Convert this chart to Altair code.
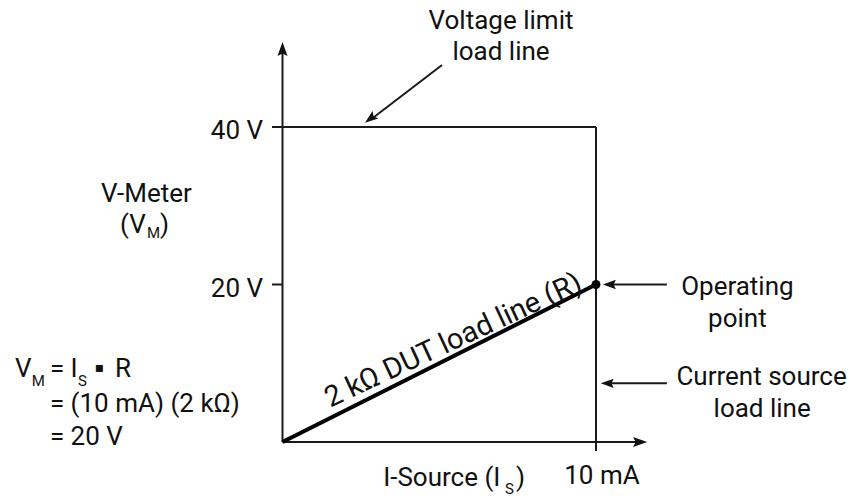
import altair as alt
import pandas as pd

# ---------------- data (current in mA, voltage in V) ----------------
load_current = [0, 10]          # DUT load line endpoints (mA)
load_voltage = [0, 20]          # DUT load line endpoints (V)
voltage_limit = 40              # V
source_current = 10             # mA
operating_current = [10]
operating_voltage = [20]
y_tick_values = [20, 40]
y_tick_labels = ["20 V", "40 V"]
x_tick_values = [10]
x_tick_labels = ["10 mA"]

FONT = "Roboto"
FS = 26
SUB = 15
W, H = 841, 488
xs = alt.Scale(domain=[-8.756, 18.070], nice=False, zero=False)
ys = alt.Scale(domain=[-6.857, 55.11], nice=False, zero=False)

# ---------------- line segments ----------------
segs = pd.DataFrame([
    # axes
    dict(x=0, y=0, x2=0, y2=50.2),
    dict(x=0, y=0, x2=11.3, y2=0),
    # voltage limit load line (with tick at 40 V)
    dict(x=-0.335, y=voltage_limit, x2=source_current, y2=voltage_limit),
    # current source load line (with tick at 10 mA)
    dict(x=source_current, y=voltage_limit, x2=source_current, y2=-1.14),
    # 20 V tick
    dict(x=-0.335, y=y_tick_values[0], x2=0, y2=y_tick_values[0]),
    # annotation arrows
    dict(x=5.09, y=47.87, x2=2.9, y2=41.2),
    dict(x=12.26, y=20, x2=10.5, y2=20),
    dict(x=12.26, y=7.45, x2=10.45, y2=7.45),
])

rules = alt.Chart(segs).mark_rule(color="#1a1a1a", strokeWidth=2).encode(
    x=alt.X("x:Q", scale=xs, axis=None),
    y=alt.Y("y:Q", scale=ys, axis=None),
    x2="x2:Q", y2="y2:Q",
)

ARROW = "M0,0 L0.36,1 L0,0.82 L-0.36,1 Z"
heads_big = pd.DataFrame([
    dict(x=0, y=50.79, a=0),
    dict(x=11.63, y=0, a=90),
])
heads_small = pd.DataFrame([
    dict(x=2.63, y=40.55, a=233.13),
    dict(x=10.22, y=20, a=270),
    dict(x=10.15, y=7.45, a=270),
])

def heads(df, size):
    return alt.Chart(df).mark_point(shape=ARROW, filled=True, color="#111",
                                    strokeWidth=0, opacity=1, size=size).encode(
        x=alt.X("x:Q", scale=xs, axis=None),
        y=alt.Y("y:Q", scale=ys, axis=None),
        angle=alt.Angle("a:Q", scale=None),
    )

load = pd.DataFrame({"i": load_current, "v": load_voltage})
load_line = alt.Chart(load).mark_line(color="#000", strokeWidth=4).encode(
    x=alt.X("i:Q", scale=xs, axis=None),
    y=alt.Y("v:Q", scale=ys, axis=None),
)

op = pd.DataFrame({"i": operating_current, "v": operating_voltage})
dot = alt.Chart(op).mark_circle(color="#000", size=80, opacity=1).encode(
    x=alt.X("i:Q", scale=xs, axis=None),
    y=alt.Y("v:Q", scale=ys, axis=None),
)

# ---------------- texts ----------------
texts = [
    ("Voltage limit", 6.97, 52.44, FS, "center"),
    ("load line", 6.97, 48.5, FS, "center"),
    (y_tick_labels[1], -0.62, 38.48, FS, "right"),
    (y_tick_labels[0], -0.62, 18.41, FS, "right"),
    ("V-Meter", -4.34, 30.48, FS, "center"),
    ("(V", -5.18, 26.54, FS, "left"),
    ("M", -4.32, 25.90, SUB, "left"),
    (")", -3.91, 26.54, FS, "left"),
    ("Operating", 14.51, 18.67, FS, "center"),
    ("point", 14.51, 14.60, FS, "center"),
    ("Current source", 15.28, 7.24, FS, "center"),
    ("load line", 15.30, 3.17, FS, "center"),
    (x_tick_labels[0], 10.19, -5.33, FS, "center"),
    ("I-Source (I", 3.21, -5.59, FS, "left"),
    ("S", 7.10, -6.60, SUB, "left"),
    (")", 7.45, -5.59, FS, "left"),
    # formula
    ("V", -8.53, 8.25, FS, "left"),
    ("M", -8.00, 7.11, SUB, "left"),
    ("= I", -7.42, 8.25, FS, "left"),
    ("S", -6.52, 7.11, SUB, "left"),
    ("R", -5.34, 8.25, FS, "left"),
    ("= (10 mA) (2 kΩ)", -7.42, 3.81, FS, "left"),
    ("= 20 V", -7.42, -0.38, FS, "left"),
]

layers = [rules, load_line, dot, heads(heads_big, 784), heads(heads_small, 676)]
for t, x, y, s, al in texts:
    df = pd.DataFrame({"t": [t], "x": [x], "y": [y]})
    layers.append(
        alt.Chart(df).mark_text(font=FONT, fontSize=s, align=al, baseline="alphabetic",
                                color="#111").encode(
            x=alt.X("x:Q", scale=xs, axis=None),
            y=alt.Y("y:Q", scale=ys, axis=None),
            text="t:N",
        )
    )

# multiplication dot in formula
bullet = pd.DataFrame({"t": ["▪"], "x": [-5.84], "y": [9.40]})
layers.append(
    alt.Chart(bullet).mark_text(font="DejaVu Sans", fontSize=14, align="center",
                                baseline="middle", color="#111").encode(
        x=alt.X("x:Q", scale=xs, axis=None),
        y=alt.Y("y:Q", scale=ys, axis=None),
        text="t:N",
    )
)

# rotated DUT label along the load line
dut = pd.DataFrame({"t": ["2 kΩ DUT load line (R)"], "x": [5.566], "y": [11.87]})
layers.append(
    alt.Chart(dut).mark_text(font=FONT, fontSize=29, align="center", baseline="alphabetic",
                             angle=335, color="#111").encode(
        x=alt.X("x:Q", scale=xs, axis=None),
        y=alt.Y("y:Q", scale=ys, axis=None),
        text="t:N",
    )
)

chart = alt.layer(*layers).properties(
    width=W, height=H, padding=0, autosize=alt.AutoSizeParams(type="none"),
    background="white",
).configure_view(stroke=None)

chart.save("out.html", embed_options={"renderer": "svg", "actions": False})
